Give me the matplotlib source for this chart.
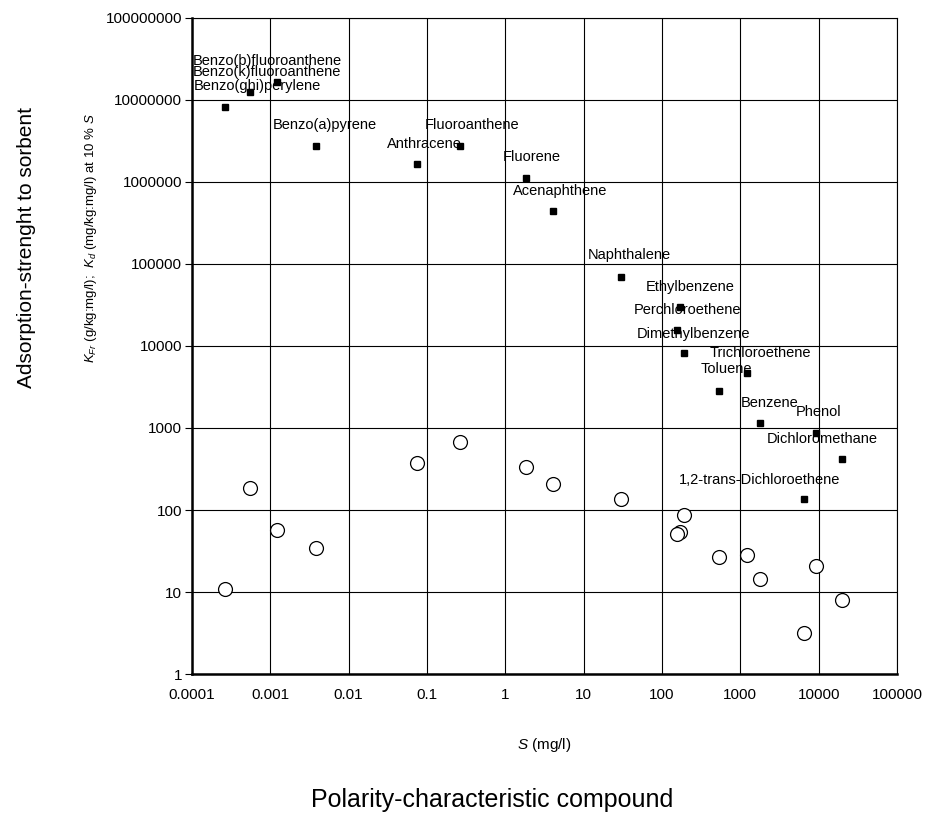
"""Kd / KFr versus water solubility S, log-log"""

import matplotlib.pyplot as plt

plt.rcParams['font.family'] = ['Liberation Sans', 'DejaVu Sans']
plt.rcParams['mathtext.fontset'] = 'custom'
plt.rcParams['mathtext.rm'] = 'Liberation Sans'
plt.rcParams['mathtext.it'] = 'Liberation Sans:italic'

# Compounds, solubility S (mg/l), Kd at 10 % S (squares), KFr (circles)
compounds = ['Benzo(b)fluoroanthene', 'Benzo(k)fluoroanthene', 'Benzo(ghi)perylene',
             'Benzo(a)pyrene', 'Fluoroanthene', 'Anthracene', 'Fluorene',
             'Acenaphthene', 'Naphthalene', 'Ethylbenzene', 'Perchloroethene',
             'Dimethylbenzene', 'Trichloroethene', 'Toluene', 'Benzene', 'Phenol',
             'Dichloromethane', '1,2-trans-Dichloroethene']
s_values = [0.00122, 0.00055, 0.00026, 0.0038, 0.26, 0.074, 1.83, 4.1, 30,
            170, 155, 190, 1230, 535, 1780, 9300, 20000, 6500]
kd_values = [1.65e7, 1.25e7, 8.2e6, 2.75e6, 2.75e6, 1.66e6, 1.12e6, 4.4e5, 6.9e4,
             3.0e4, 1.57e4, 8200, 4700, 2800, 1150, 870, 420, 135]
kfr_values = [57, 186, 10.9, 34, 675, 373, 333, 207, 135,
              54, 51, 87, 28, 27, 14.4, 21, 8, 3.2]

# label offsets from the square marker, in pixels
label_dx = [-84, -57, -31, -43, -35, -30, -23, -40, -33,
            -34, -43, -47, -38, -18, -19, -20, -75, -125]
label_dy = [21, 20, 21, 21, 21, 20, 21, 20, 22,
            20, 20, 19, 20, 22, 20, 21, 20, 19]

fig = plt.figure(figsize=(9.27, 8.19), dpi=100)
ax = fig.add_axes([192 / 927, 1 - 674 / 819, 705 / 927, 656 / 819])

ax.plot(s_values, kd_values, 's', color='black', markersize=5, linestyle='none')
ax.plot(s_values, kfr_values, 'o', markerfacecolor='white', markeredgecolor='black',
        markeredgewidth=0.9, markersize=10, linestyle='none')

for name, x, y, dx, dy in zip(compounds, s_values, kd_values, label_dx, label_dy):
    ax.annotate(name, (x, y), xytext=(dx, dy), textcoords='offset pixels',
                ha='left', va='center', fontsize=10.5)

ax.set_xscale('log')
ax.set_yscale('log')
ax.set_xlim(0.0001, 100000)
ax.set_ylim(1, 100000000)

xticks = [0.0001, 0.001, 0.01, 0.1, 1, 10, 100, 1000, 10000, 100000]
xlabels = ['0.0001', '0.001', '0.01', '0.1', '1', '10', '100', '1000', '10000', '100000']
yticks = [1, 10, 100, 1000, 10000, 100000, 1000000, 10000000, 100000000]
ylabels = ['1', '10', '100', '1000', '10000', '100000', '1000000', '10000000', '100000000']
ax.set_xticks(xticks)
ax.set_xticklabels(xlabels)
ax.set_yticks(yticks)
ax.set_yticklabels(ylabels)
ax.minorticks_off()
ax.tick_params(axis='x', length=0, pad=10, labelsize=11)
ax.tick_params(axis='y', length=5, width=0.8, pad=2, labelsize=11)

ax.grid(True, which='major', color='black', linewidth=0.8)
ax.spines['left'].set_linewidth(1.8)
ax.spines['bottom'].set_linewidth(1.8)
ax.spines['top'].set_linewidth(0.8)
ax.spines['right'].set_linewidth(0.8)

fig.text(544 / 927, 1 - 745 / 819, '$S$ (mg/l)', ha='center', va='center', fontsize=11)
fig.text(492 / 927, 1 - 800 / 819, 'Polarity-characteristic compound',
         ha='center', va='center', fontsize=18)
fig.text(27 / 927, 1 - 247 / 819, 'Adsorption-strenght to sorbent', rotation=90,
         ha='center', va='center', fontsize=15)
fig.text(91 / 927, 1 - 238 / 819,
         r'$K_{Fr}$ (g/kg:mg/l);  $K_d$ (mg/kg:mg/l) at 10 % $S$',
         rotation=90, ha='center', va='center', fontsize=9.5)

plt.savefig('out.png', dpi=100)
